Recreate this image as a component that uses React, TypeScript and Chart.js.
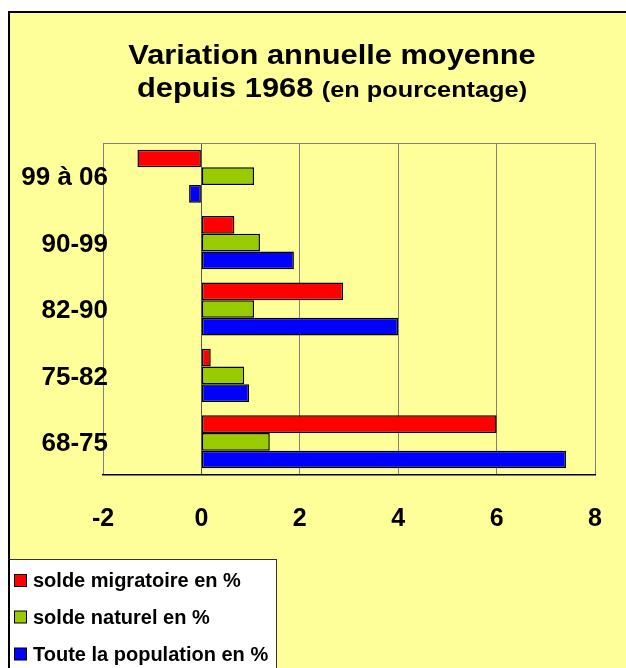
import React, { useEffect, useRef } from 'react';
import { Chart, registerables } from 'chart.js';

Chart.register(...registerables);

const categories = ['99 à 06', '90-99', '82-90', '75-82', '68-75'];
const soldeMigratoire = [-1.3, 0.67, 2.88, 0.19, 6.0];
const soldeNaturel = [1.07, 1.19, 1.07, 0.87, 1.39];
const toutePopulation = [-0.25, 1.88, 4.0, 0.97, 7.41];
const seriesNames = ['solde migratoire en %', 'solde naturel en %', 'Toute la population en %'];
const seriesColors = ['#FF0000', '#99CC00', '#0000FF'];
const xMin = -2;
const xMax = 8;
const xStep = 2;
const titleLine1 = 'Variation annuelle moyenne';
const titleLine2a = 'depuis 1968 ';
const titleLine2b = '(en pourcentage)';

const FONT = '"Liberation Sans", Arial, Helvetica, sans-serif';
const W = 618;
const H = 657;

function stretchedText(ctx: CanvasRenderingContext2D, text: string, x: number, y: number, size: number, sx: number) {
  ctx.save();
  ctx.font = 'bold ' + size + 'px ' + FONT;
  ctx.translate(x, y);
  ctx.scale(sx, 1);
  ctx.textAlign = 'left';
  ctx.textBaseline = 'alphabetic';
  ctx.fillText(text, 0, 0);
  ctx.restore();
}

function textWidth(ctx: CanvasRenderingContext2D, text: string, size: number, sx: number) {
  ctx.save();
  ctx.font = 'bold ' + size + 'px ' + FONT;
  const w = ctx.measureText(text).width * sx;
  ctx.restore();
  return w;
}

export default function App() {
  const ref = useRef<HTMLCanvasElement | null>(null);

  useEffect(() => {
    if (!ref.current) return;

    const framePlugin = {
      id: 'frame',
      beforeDatasetsDraw(chart: any) {
        const { ctx, chartArea: a } = chart;
        ctx.save();
        ctx.strokeStyle = '#808080';
        ctx.lineWidth = 1;
        ctx.beginPath();
        ctx.moveTo(a.left, a.top + 0.5);
        ctx.lineTo(a.right, a.top + 0.5);
        ctx.stroke();
        ctx.restore();
      },
      afterDraw(chart: any) {
        const { ctx } = chart;
        ctx.save();
        // outer border
        ctx.strokeStyle = '#000';
        ctx.lineWidth = 2;
        ctx.beginPath();
        ctx.moveTo(1, H);
        ctx.lineTo(1, 1);
        ctx.lineTo(W, 1);
        ctx.stroke();

        // category labels (positions from the library's y scale)
        const ys = chart.scales.y;
        ctx.fillStyle = '#000';
        ctx.font = 'bold 26px ' + FONT;
        ctx.textAlign = 'right';
        ctx.textBaseline = 'middle';
        categories.forEach((c, i) => {
          ctx.fillText(c, 100, ys.getPixelForValue(i) + 2);
        });

        // title
        ctx.fillStyle = '#000';
        const s1 = 28, k1 = 1.1;
        const w0 = textWidth(ctx, titleLine1, s1, k1);
        stretchedText(ctx, titleLine1, 324 - w0 / 2, 53, s1, k1);
        const s2a = 28, k2a = 1.1;
        const s2b = 22, k2b = 1.15;
        const w1 = textWidth(ctx, titleLine2a, s2a, k2a);
        const w2 = textWidth(ctx, titleLine2b, s2b, k2b);
        const sx = 324 - (w1 + w2) / 2;
        stretchedText(ctx, titleLine2a, sx, 86, s2a, k2a);
        stretchedText(ctx, titleLine2b, sx + w1, 86, s2b, k2b);

        // legend box
        const lx = 0.5, ly = 548.5, lw = 268, lh = H - 548;
        ctx.fillStyle = '#FFFFFF';
        ctx.fillRect(lx, ly, lw, lh);
        ctx.strokeStyle = '#333';
        ctx.lineWidth = 1;
        ctx.strokeRect(lx, ly, lw, lh + 5);
        ctx.strokeStyle = '#000';
        ctx.lineWidth = 2;
        ctx.beginPath();
        ctx.moveTo(1, ly);
        ctx.lineTo(1, H);
        ctx.stroke();
        const rows = [569.5, 606, 643];
        ctx.font = 'bold 20px ' + FONT;
        ctx.textBaseline = 'middle';
        ctx.textAlign = 'left';
        seriesNames.forEach((name, i) => {
          const cy = rows[i];
          ctx.fillStyle = seriesColors[i];
          ctx.fillRect(6.5, cy - 6, 12, 12);
          ctx.strokeStyle = '#000';
          ctx.lineWidth = 1;
          ctx.strokeRect(6.5, cy - 6, 12, 12);
          ctx.fillStyle = '#000';
          ctx.fillText(name, 25, cy + 1);
        });
        ctx.restore();
      },
    };

    const chart = new Chart(ref.current, {
      type: 'bar',
      data: {
        labels: categories,
        datasets: [
          { label: seriesNames[0], data: soldeMigratoire, backgroundColor: seriesColors[0] },
          { label: seriesNames[1], data: soldeNaturel, backgroundColor: seriesColors[1] },
          { label: seriesNames[2], data: toutePopulation, backgroundColor: seriesColors[2] },
        ].map((d) => ({
          ...d,
          borderColor: '#000',
          borderWidth: 1.5,
          borderSkipped: false,
          categoryPercentage: 0.8,
          barPercentage: 1.0,
        })),
      },
      options: {
        indexAxis: 'y',
        animation: false,
        responsive: false,
        maintainAspectRatio: false,
        devicePixelRatio: 1,
        layout: { padding: { top: 132, right: 31, left: 0, bottom: 0 } },
        plugins: {
          legend: { display: false },
          title: { display: false },
          tooltip: { enabled: false },
        },
        scales: {
          x: {
            type: 'linear',
            min: xMin,
            max: xMax,
            ticks: {
              stepSize: xStep,
              color: '#000',
              font: { family: FONT, size: 25, weight: 'bold' },
              padding: 0,
            },
            grid: {
              color: (c: any) => (c.tick && c.tick.value === 0 ? '#555555' : '#808080'),
              lineWidth: 1,
              drawTicks: true,
              tickLength: 29,
              tickColor: 'rgba(0,0,0,0)',
            },
            border: { display: true, color: '#000', width: 1.5 },
            afterFit: (s: any) => {
              s.height = 193;
            },
          },
          y: {
            type: 'category',
            grid: { display: false, drawTicks: false, tickLength: 0 },
            border: { display: false },
            ticks: { display: false },
            afterFit: (s: any) => {
              s.width = 95;
            },
          },
        },
      },
      plugins: [framePlugin],
    } as any);

    return () => chart.destroy();
  }, []);

  return (
    <div
      style={{
        position: 'absolute',
        left: 8,
        top: 11,
        width: W,
        height: H,
        background: '#FFFF99',
      }}
    >
      <canvas ref={ref} width={W} height={H} style={{ display: 'block', width: W, height: H }} />
    </div>
  );
}
